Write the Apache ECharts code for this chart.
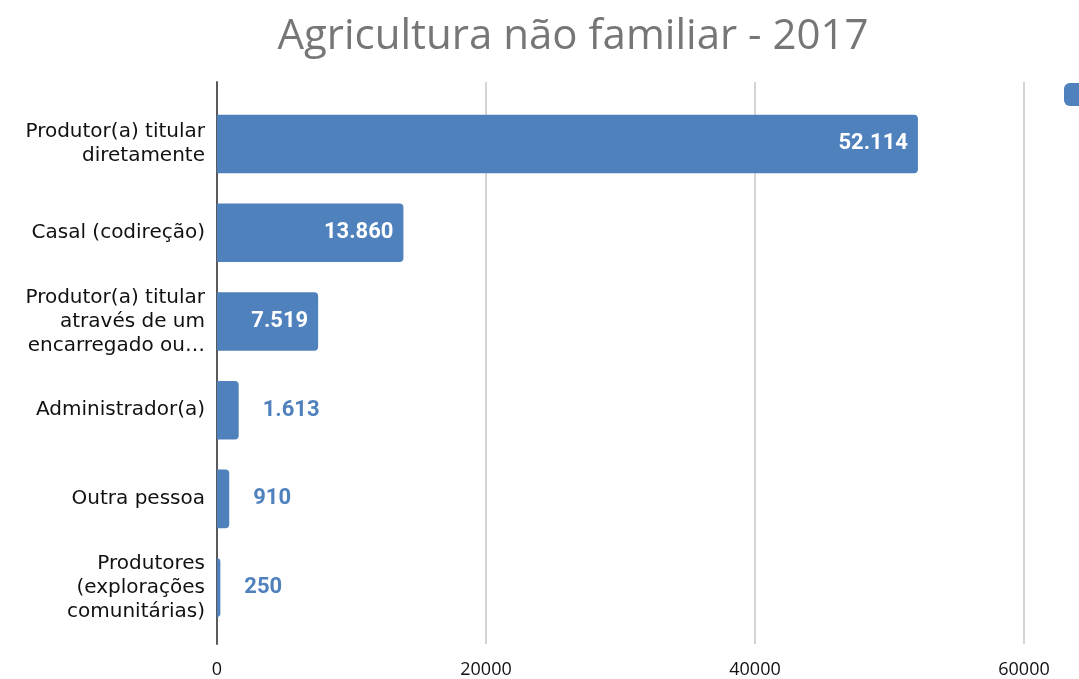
<!DOCTYPE html>
<html>
<head>
<meta charset="utf-8">
<script src="https://cdn.jsdelivr.net/npm/echarts@6/dist/echarts.min.js"></script>
<style>
  html, body { margin: 0; padding: 0; background: #fff; }
  #chart { width: 1079px; height: 679px; }
</style>
</head>
<body>
<div id="chart"></div>
<script>
// Explorações agrícolas não familiares por forma de gestão, 2017
const titleText = 'Agricultura não familiar - 2017';
const seriesName = 'Explorações';
const categories = [
  'Produtor(a) titular\ndiretamente',
  'Casal (codireção)',
  'Produtor(a) titular\natravés de um\nencarregado ou…',
  'Administrador(a)',
  'Outra pessoa',
  'Produtores\n(explorações\ncomunitárias)'
];
const values = [52114, 13860, 7519, 1613, 910, 250];
const axisMin = 0;
const axisMax = 60000;
const axisStep = 20000;

const barColor = '#4f81bd';
const fmt = v => v.toLocaleString('de-DE');

const chart = echarts.init(document.getElementById('chart'), null, { renderer: 'canvas' });

// long bars carry their value inside in white, short ones outside in the bar colour
const barData = values.map(v => {
  const inside = v > 5000;
  return {
    value: v,
    label: inside
      ? { position: 'insideRight', distance: 10, color: '#ffffff' }
      : { position: 'right', distance: 24, color: barColor }
  };
});

chart.setOption({
  backgroundColor: '#ffffff',
  animation: false,
  title: {
    text: titleText,
    left: 568,
    top: 11,
    textAlign: 'center',
    textStyle: {
      fontFamily: 'Open Sans',
      fontWeight: 'normal',
      fontSize: 42,
      color: '#767676'
    }
  },
  legend: {
    left: 1059,
    top: 78,
    itemWidth: 23,
    itemHeight: 23,
    itemGap: 6,
    icon: 'roundRect',
    textStyle: { fontFamily: 'DejaVu Sans', fontSize: 16, color: '#000' },
    data: [seriesName]
  },
  grid: [
    // bars and category labels
    { left: 217, right: 55, top: 99.6, bottom: 47, containLabel: false },
    // value scale, gridlines and baseline spanning the full plot height
    { left: 217, right: 55, top: 82, bottom: 34, containLabel: false }
  ],
  xAxis: [
    {
      gridIndex: 0,
      type: 'value',
      min: axisMin, max: axisMax, interval: axisStep,
      show: false
    },
    {
      gridIndex: 1,
      type: 'value',
      min: axisMin, max: axisMax, interval: axisStep,
      axisLine: { show: false },
      axisTick: { show: false },
      splitLine: { show: true, lineStyle: { color: '#d4d4d4', width: 2 } },
      axisLabel: {
        margin: 17,
        fontFamily: 'Open Sans',
        fontSize: 18,
        color: '#111',
        formatter: v => String(v)
      }
    }
  ],
  yAxis: [
    {
      gridIndex: 0,
      type: 'category',
      inverse: true,
      data: categories,
      axisLine: { show: false },
      axisTick: { show: false },
      axisLabel: {
        margin: 12,
        fontFamily: 'DejaVu Sans',
        fontSize: 20,
        lineHeight: 24,
        color: '#111',
        align: 'right'
      }
    },
    {
      gridIndex: 1,
      type: 'value',
      min: 0, max: 1,
      axisLine: { show: true, lineStyle: { color: '#5a5a5a', width: 2 } },
      axisTick: { show: false },
      axisLabel: { show: false },
      splitLine: { show: false }
    }
  ],
  series: [
    {
      name: seriesName,
      type: 'bar',
      xAxisIndex: 0,
      yAxisIndex: 0,
      data: barData,
      barCategoryGap: '34%',
      itemStyle: { color: barColor, borderRadius: [0, 4, 4, 0] },
      label: {
        show: true,
        fontFamily: 'Roboto',
        fontWeight: 'bold',
        fontSize: 22,
        formatter: p => fmt(p.value)
      },
      z: 3
    }
  ]
});
</script>
</body>
</html>
